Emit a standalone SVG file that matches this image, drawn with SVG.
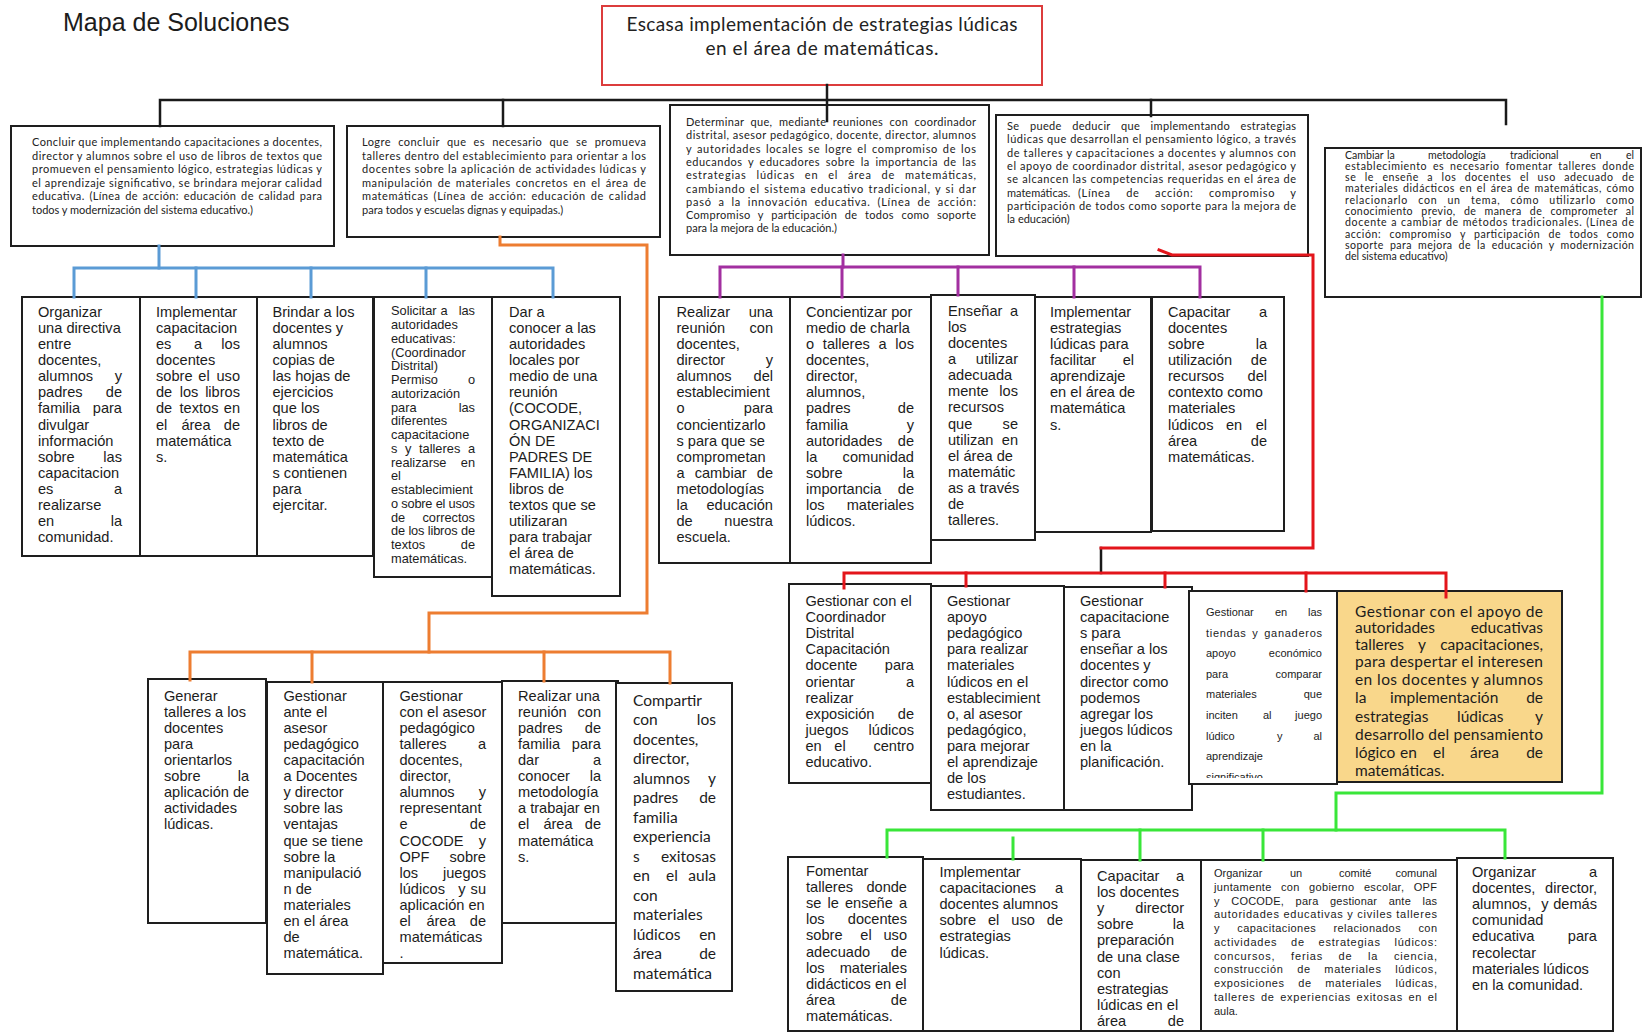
<svg xmlns="http://www.w3.org/2000/svg" width="1642" height="1034" viewBox="0 0 1642 1034">
<style>
.bx{fill:#fff;stroke:#1e1e1e;stroke-width:2}
.a{font-family:"Liberation Sans",Arial,sans-serif;font-size:14.6px;fill:#1c1c1c}
.s{font-family:"Liberation Sans",Arial,sans-serif;font-size:12.8px;fill:#1c1c1c}
.n{font-family:"Liberation Sans",Arial,sans-serif;font-size:11px;fill:#1c1c1c}
.c{font-family:Lato,"Open Sans","Liberation Sans",sans-serif;font-size:11px;fill:#222}
.c5{font-family:Lato,"Open Sans","Liberation Sans",sans-serif;font-size:10.6px;fill:#222}
.cl{font-family:Lato,"Open Sans","Liberation Sans",sans-serif;font-size:15.5px;fill:#1c1c1c}
.e{text-anchor:end}
.m{text-anchor:middle}
.k{fill:none;stroke-width:3;stroke-linecap:square;stroke-linejoin:miter}
</style>
<defs>
<clipPath id="clipR4"><rect x="1189" y="591" width="148" height="187"/></clipPath>
</defs>
<rect width="1642" height="1034" fill="#fff"/>
<text x="63" y="31" font-family="Liberation Sans, Arial, sans-serif" font-size="25" fill="#1c1c1c">Mapa de Soluciones</text>

<g id="title">
<rect x="602" y="6" width="440" height="79" fill="#fff" stroke="#DC3C3C" stroke-width="2"/>
<text x="822" y="31" class="m" font-family="Lato, Open Sans, sans-serif" font-size="19" fill="#222" textLength="391">Escasa implementación de estrategias lúdicas</text>
<text x="822" y="55" class="m" font-family="Lato, Open Sans, sans-serif" font-size="19" fill="#222" textLength="233">en el área de matemáticas.</text>
</g>

<g id="box1">
<rect class="bx" x="11" y="126" width="323" height="120"/>
<text class="c" x="32" y="146" textLength="290">Concluir que implementando capacitaciones a docentes,</text>
<text class="c" x="32" y="159.6" textLength="290">director y alumnos sobre el uso de libros de textos que</text>
<text class="c" x="32" y="173.2" textLength="290">promueven el pensamiento lógico, estrategias lúdicas y</text>
<text class="c" x="32" y="186.8" textLength="290">el aprendizaje significativo, se brindara mejorar calidad</text>
<text class="c" x="32" y="200.4" textLength="290" word-spacing="1.5">educativa.  (Línea de acción: educación de calidad para</text>
<text class="c" x="32" y="214">todos y modernización del sistema educativo.)</text>
</g>

<g id="box2">
<rect class="bx" x="347" y="126" width="313" height="111"/>
<text class="c" x="362" y="146" textLength="284" word-spacing="3.9">Logre concluir que es necesario que se promueva</text>
<text class="c" x="362" y="159.6" textLength="284">talleres dentro del establecimiento para orientar a los</text>
<text class="c" x="362" y="173.2" textLength="284">docentes sobre la aplicación de actividades lúdicas y</text>
<text class="c" x="362" y="186.8" textLength="284" word-spacing="1.6">manipulación de materiales concretos en el área de</text>
<text class="c" x="362" y="200.4" textLength="284" word-spacing="1.6">matemáticas (Línea de acción: educación de calidad</text>
<text class="c" x="362" y="214">para todos y escuelas dignas y equipadas.)</text>
</g>

<g id="box3">
<rect class="bx" x="670" y="105" width="319" height="150"/>
<text class="c" x="686" y="126" textLength="290" word-spacing="3.4">Determinar que, mediante reuniones con coordinador</text>
<text class="c" x="686" y="139.3" textLength="290">distrital, asesor pedagógico, docente, director, alumnos</text>
<text class="c" x="686" y="152.6" textLength="290" word-spacing="1.4">y autoridades locales se logre el compromiso de los</text>
<text class="c" x="686" y="165.9" textLength="290" word-spacing="2.4">educandos y educadores sobre la importancia de las</text>
<text class="c" x="686" y="179.2" textLength="290" word-spacing="6.3">estrategias lúdicas en el área de matemáticas,</text>
<text class="c" x="686" y="192.5" textLength="290" word-spacing="0.8">cambiando el sistema educativo tradicional, y si dar</text>
<text class="c" x="686" y="205.8" textLength="290" word-spacing="3.1">pasó a la innovación educativa. (Línea de acción:</text>
<text class="c" x="686" y="219.1" textLength="290" word-spacing="4.5">Compromiso y participación de todos como soporte</text>
<text class="c" x="686" y="232.4">para la mejora de la educación.)</text>
</g>

<g id="box4">
<rect class="bx" x="996" y="115" width="312" height="141"/>
<text class="c" x="1007" y="130" textLength="289" word-spacing="7.4">Se puede deducir que implementando estrategias</text>
<text class="c" x="1007" y="143.3" textLength="289">lúdicas que desarrollan el pensamiento lógico, a través</text>
<text class="c" x="1007" y="156.6" textLength="289">de talleres y capacitaciones a docentes y alumnos con</text>
<text class="c" x="1007" y="169.9" textLength="289">el apoyo de coordinador distrital, asesor pedagógico y</text>
<text class="c" x="1007" y="183.2" textLength="289">se alcancen las competencias requeridas en el área de</text>
<text class="c" x="1007" y="196.5">matemáticas.</text>
<text class="c" x="1078" y="196.5" textLength="218" word-spacing="12">(Línea de acción: compromiso y</text>
<text class="c" x="1007" y="209.8" textLength="289">participación de todos como soporte para la mejora de</text>
<text class="c" x="1007" y="223.1">la educación)</text>
</g>

<g id="box5">
<rect class="bx" x="1325" y="148" width="316" height="149"/>
<text class="c5" y="158.5"><tspan x="1345">Cambiar</tspan><tspan x="1387">la</tspan><tspan x="1428">metodología</tspan><tspan x="1510">tradicional</tspan><tspan x="1590">en</tspan><tspan x="1634" class="e">el</tspan></text>
<text class="c5" x="1345" y="169.8" textLength="289" word-spacing="2.5">establecimiento es necesario fomentar talleres donde</text>
<text class="c5" x="1345" y="181.1" textLength="289" word-spacing="5.2">se le enseñe a los docentes el uso adecuado de</text>
<text class="c5" x="1345" y="192.4" textLength="289" word-spacing="1.3">materiales didácticos en el área de matemáticas, cómo</text>
<text class="c5" x="1345" y="203.7" textLength="289" word-spacing="6.7">relacionarlo con un tema, cómo utilizarlo como</text>
<text class="c5" x="1345" y="215" textLength="289" word-spacing="5.1">conocimiento previo, de manera de comprometer al</text>
<text class="c5" x="1345" y="226.3" textLength="289" word-spacing="0.5">docente a cambiar de métodos tradicionales.  (Línea de</text>
<text class="c5" x="1345" y="237.6" textLength="289" word-spacing="5.1">acción: compromiso y participación de todos como</text>
<text class="c5" x="1345" y="248.9" textLength="289" word-spacing="2.9">soporte para mejora de la educación y modernización</text>
<text class="c5" x="1345" y="260.2">del sistema educativo)</text>
</g>

<g id="b1">
<rect class="bx" x="22" y="297" width="118" height="259"/>
<text class="a" x="38" y="317">Organizar</text>
<text class="a" x="38" y="333.1">una directiva</text>
<text class="a" x="38" y="349.1">entre</text>
<text class="a" x="38" y="365.2">docentes,</text>
<text class="a" y="381.3"><tspan x="38">alumnos</tspan><tspan x="122" class="e">y</tspan></text>
<text class="a" y="397.4"><tspan x="38">padres</tspan><tspan x="122" class="e">de</tspan></text>
<text class="a" y="413.4"><tspan x="38">familia</tspan><tspan x="122" class="e">para</tspan></text>
<text class="a" x="38" y="429.5">divulgar</text>
<text class="a" x="38" y="445.6">información</text>
<text class="a" y="461.6"><tspan x="38">sobre</tspan><tspan x="122" class="e">las</tspan></text>
<text class="a" x="38" y="477.7">capacitacion</text>
<text class="a" y="493.8"><tspan x="38">es</tspan><tspan x="122" class="e">a</tspan></text>
<text class="a" x="38" y="509.8">realizarse</text>
<text class="a" y="525.9"><tspan x="38">en</tspan><tspan x="122" class="e">la</tspan></text>
<text class="a" x="38" y="542">comunidad.</text>
</g>

<g id="b2">
<rect class="bx" x="140" y="297" width="117" height="259"/>
<text class="a" x="156" y="317">Implementar</text>
<text class="a" x="156" y="333.1">capacitacion</text>
<text class="a" y="349.1"><tspan x="156">es</tspan><tspan x="198" class="m">a</tspan><tspan x="240" class="e">los</tspan></text>
<text class="a" x="156" y="365.2">docentes</text>
<text class="a" y="381.3"><tspan x="156">sobre</tspan><tspan x="204" class="m">el</tspan><tspan x="240" class="e">uso</tspan></text>
<text class="a" y="397.4"><tspan x="156">de</tspan><tspan x="189" class="m">los</tspan><tspan x="240" class="e">libros</tspan></text>
<text class="a" y="413.4"><tspan x="156">de</tspan><tspan x="199" class="m">textos</tspan><tspan x="240" class="e">en</tspan></text>
<text class="a" y="429.5"><tspan x="156">el</tspan><tspan x="196" class="m">área</tspan><tspan x="240" class="e">de</tspan></text>
<text class="a" x="156" y="445.6">matemática</text>
<text class="a" x="156" y="461.6">s.</text>
</g>

<g id="b3">
<rect class="bx" x="257" y="297" width="116" height="259"/>
<text class="a" x="272.5" y="317">Brindar a los</text>
<text class="a" x="272.5" y="333.1">docentes y</text>
<text class="a" x="272.5" y="349.1">alumnos</text>
<text class="a" x="272.5" y="365.2">copias de</text>
<text class="a" x="272.5" y="381.3">las hojas de</text>
<text class="a" x="272.5" y="397.4">ejercicios</text>
<text class="a" x="272.5" y="413.4">que los</text>
<text class="a" x="272.5" y="429.5">libros de</text>
<text class="a" x="272.5" y="445.6">texto de</text>
<text class="a" x="272.5" y="461.6">matemática</text>
<text class="a" x="272.5" y="477.7">s contienen</text>
<text class="a" x="272.5" y="493.8">para</text>
<text class="a" x="272.5" y="509.8">ejercitar.</text>
</g>

<g id="b4">
<rect class="bx" x="374" y="297" width="118" height="280"/>
<text class="s" y="315.2"><tspan x="391">Solicitar</tspan><tspan x="444" class="m">a</tspan><tspan x="475" class="e">las</tspan></text>
<text class="s" x="391" y="329">autoridades</text>
<text class="s" x="391" y="342.7">educativas:</text>
<text class="s" x="391" y="356.5">(Coordinador</text>
<text class="s" x="391" y="370.2">Distrital)</text>
<text class="s" y="384"><tspan x="391">Permiso</tspan><tspan x="475" class="e">o</tspan></text>
<text class="s" x="391" y="397.8">autorización</text>
<text class="s" y="411.5"><tspan x="391">para</tspan><tspan x="475" class="e">las</tspan></text>
<text class="s" x="391" y="425.3">diferentes</text>
<text class="s" x="391" y="439">capacitacione</text>
<text class="s" x="391" y="452.8" textLength="84" word-spacing="4">s y talleres a</text>
<text class="s" y="466.6"><tspan x="391">realizarse</tspan><tspan x="475" class="e">en</tspan></text>
<text class="s" x="391" y="480.3">el</text>
<text class="s" x="391" y="494.1">establecimient</text>
<text class="s" x="391" y="507.8" textLength="84">o sobre el usos</text>
<text class="s" y="521.6"><tspan x="391">de</tspan><tspan x="475" class="e">correctos</tspan></text>
<text class="s" x="391" y="535.4" textLength="84">de los libros de</text>
<text class="s" y="549.1"><tspan x="391">textos</tspan><tspan x="475" class="e">de</tspan></text>
<text class="s" x="391" y="562.9">matemáticas.</text>
</g>

<g id="b5">
<rect class="bx" x="492" y="297" width="128" height="299"/>
<text class="a" x="509" y="317">Dar a</text>
<text class="a" x="509" y="333.1">conocer a las</text>
<text class="a" x="509" y="349.1">autoridades</text>
<text class="a" x="509" y="365.2">locales por</text>
<text class="a" x="509" y="381.3">medio de una</text>
<text class="a" x="509" y="397.4">reunión</text>
<text class="a" x="509" y="413.4">(COCODE,</text>
<text class="a" x="509" y="429.5">ORGANIZACI</text>
<text class="a" x="509" y="445.6">ÓN DE</text>
<text class="a" x="509" y="461.6">PADRES DE</text>
<text class="a" x="509" y="477.7">FAMILIA) los</text>
<text class="a" x="509" y="493.8">libros de</text>
<text class="a" x="509" y="509.8">textos que se</text>
<text class="a" x="509" y="525.9">utilizaran</text>
<text class="a" x="509" y="542">para trabajar</text>
<text class="a" x="509" y="558.1">el área de</text>
<text class="a" x="509" y="574.2">matemáticas.</text>
</g>

<g id="p1">
<rect class="bx" x="659" y="297" width="131" height="266"/>
<text class="a" y="317"><tspan x="676.5">Realizar</tspan><tspan x="773" class="e">una</tspan></text>
<text class="a" y="333.1"><tspan x="676.5">reunión</tspan><tspan x="773" class="e">con</tspan></text>
<text class="a" x="676.5" y="349.1">docentes,</text>
<text class="a" y="365.2"><tspan x="676.5">director</tspan><tspan x="773" class="e">y</tspan></text>
<text class="a" y="381.3"><tspan x="676.5">alumnos</tspan><tspan x="773" class="e">del</tspan></text>
<text class="a" x="676.5" y="397.4">establecimient</text>
<text class="a" y="413.4"><tspan x="676.5">o</tspan><tspan x="773" class="e">para</tspan></text>
<text class="a" x="676.5" y="429.5">concientizarlo</text>
<text class="a" x="676.5" y="445.6">s para que se</text>
<text class="a" x="676.5" y="461.6">comprometan</text>
<text class="a" x="676.5" y="477.7" textLength="96.5" word-spacing="6">a cambiar de</text>
<text class="a" x="676.5" y="493.8">metodologías</text>
<text class="a" y="509.8"><tspan x="676.5">la</tspan><tspan x="773" class="e">educación</tspan></text>
<text class="a" y="525.9"><tspan x="676.5">de</tspan><tspan x="773" class="e">nuestra</tspan></text>
<text class="a" x="676.5" y="542">escuela.</text>
</g>

<g id="p2">
<rect class="bx" x="790" y="297" width="141" height="266"/>
<text class="a" x="806" y="317">Concientizar por</text>
<text class="a" x="806" y="333.1">medio de charla</text>
<text class="a" x="806" y="349.1" textLength="108" word-spacing="4.7">o talleres a los</text>
<text class="a" x="806" y="365.2">docentes,</text>
<text class="a" x="806" y="381.3">director,</text>
<text class="a" x="806" y="397.4">alumnos,</text>
<text class="a" y="413.4"><tspan x="806">padres</tspan><tspan x="914" class="e">de</tspan></text>
<text class="a" y="429.5"><tspan x="806">familia</tspan><tspan x="914" class="e">y</tspan></text>
<text class="a" y="445.6"><tspan x="806">autoridades</tspan><tspan x="914" class="e">de</tspan></text>
<text class="a" y="461.6"><tspan x="806">la</tspan><tspan x="914" class="e">comunidad</tspan></text>
<text class="a" y="477.7"><tspan x="806">sobre</tspan><tspan x="914" class="e">la</tspan></text>
<text class="a" y="493.8"><tspan x="806">importancia</tspan><tspan x="914" class="e">de</tspan></text>
<text class="a" y="509.8"><tspan x="806">los</tspan><tspan x="914" class="e">materiales</tspan></text>
<text class="a" x="806" y="525.9">lúdicos.</text>
</g>

<g id="p3">
<rect class="bx" x="931" y="295" width="104" height="245"/>
<text class="a" y="316"><tspan x="948">Enseñar</tspan><tspan x="1018" class="e">a</tspan></text>
<text class="a" x="948" y="332.1">los</text>
<text class="a" x="948" y="348.1">docentes</text>
<text class="a" y="364.2"><tspan x="948">a</tspan><tspan x="1018" class="e">utilizar</tspan></text>
<text class="a" x="948" y="380.3">adecuada</text>
<text class="a" y="396.4"><tspan x="948">mente</tspan><tspan x="1018" class="e">los</tspan></text>
<text class="a" x="948" y="412.4">recursos</text>
<text class="a" y="428.5"><tspan x="948">que</tspan><tspan x="1018" class="e">se</tspan></text>
<text class="a" y="444.6"><tspan x="948">utilizan</tspan><tspan x="1018" class="e">en</tspan></text>
<text class="a" x="948" y="460.6">el área de</text>
<text class="a" x="948" y="476.7">matemátic</text>
<text class="a" x="948" y="492.8">as a través</text>
<text class="a" x="948" y="508.8">de</text>
<text class="a" x="948" y="524.9">talleres.</text>
</g>

<g id="p4">
<rect class="bx" x="1035" y="297" width="116" height="235"/>
<text class="a" x="1050" y="317">Implementar</text>
<text class="a" x="1050" y="333.1">estrategias</text>
<text class="a" x="1050" y="349.1">lúdicas para</text>
<text class="a" y="365.2"><tspan x="1050">facilitar</tspan><tspan x="1134" class="e">el</tspan></text>
<text class="a" x="1050" y="381.3">aprendizaje</text>
<text class="a" x="1050" y="397.4">en el área de</text>
<text class="a" x="1050" y="413.4">matemática</text>
<text class="a" x="1050" y="429.5">s.</text>
</g>

<g id="p5">
<rect class="bx" x="1152" y="297" width="132" height="234"/>
<text class="a" y="317"><tspan x="1168">Capacitar</tspan><tspan x="1267" class="e">a</tspan></text>
<text class="a" x="1168" y="333.1">docentes</text>
<text class="a" y="349.1"><tspan x="1168">sobre</tspan><tspan x="1267" class="e">la</tspan></text>
<text class="a" y="365.2"><tspan x="1168">utilización</tspan><tspan x="1267" class="e">de</tspan></text>
<text class="a" y="381.3"><tspan x="1168">recursos</tspan><tspan x="1267" class="e">del</tspan></text>
<text class="a" x="1168" y="397.4">contexto como</text>
<text class="a" x="1168" y="413.4">materiales</text>
<text class="a" y="429.5"><tspan x="1168">lúdicos</tspan><tspan x="1234" class="m">en</tspan><tspan x="1267" class="e">el</tspan></text>
<text class="a" y="445.6"><tspan x="1168">área</tspan><tspan x="1267" class="e">de</tspan></text>
<text class="a" x="1168" y="461.6">matemáticas.</text>
</g>

<g id="r1">
<rect class="bx" x="789" y="584" width="142" height="199"/>
<text class="a" x="805.5" y="606">Gestionar con el</text>
<text class="a" x="805.5" y="622.1">Coordinador</text>
<text class="a" x="805.5" y="638.2">Distrital</text>
<text class="a" x="805.5" y="654.3">Capacitación</text>
<text class="a" y="670.4"><tspan x="805.5">docente</tspan><tspan x="914" class="e">para</tspan></text>
<text class="a" y="686.5"><tspan x="805.5">orientar</tspan><tspan x="914" class="e">a</tspan></text>
<text class="a" x="805.5" y="702.6">realizar</text>
<text class="a" y="718.7"><tspan x="805.5">exposición</tspan><tspan x="914" class="e">de</tspan></text>
<text class="a" y="734.8"><tspan x="805.5">juegos</tspan><tspan x="914" class="e">lúdicos</tspan></text>
<text class="a" y="750.9"><tspan x="805.5">en</tspan><tspan x="840" class="m">el</tspan><tspan x="914" class="e">centro</tspan></text>
<text class="a" x="805.5" y="767">educativo.</text>
</g>

<g id="r2">
<rect class="bx" x="931" y="586" width="133" height="224"/>
<text class="a" x="947" y="606">Gestionar</text>
<text class="a" x="947" y="622.1">apoyo</text>
<text class="a" x="947" y="638.2">pedagógico</text>
<text class="a" x="947" y="654.3">para realizar</text>
<text class="a" x="947" y="670.4">materiales</text>
<text class="a" x="947" y="686.5">lúdicos en el</text>
<text class="a" x="947" y="702.6">establecimient</text>
<text class="a" x="947" y="718.7">o, al asesor</text>
<text class="a" x="947" y="734.8">pedagógico,</text>
<text class="a" x="947" y="750.9">para mejorar</text>
<text class="a" x="947" y="767">el aprendizaje</text>
<text class="a" x="947" y="783.1">de los</text>
<text class="a" x="947" y="799.2">estudiantes.</text>
</g>

<g id="r3">
<rect class="bx" x="1064" y="587" width="128" height="223"/>
<text class="a" x="1080" y="606">Gestionar</text>
<text class="a" x="1080" y="622.1">capacitacione</text>
<text class="a" x="1080" y="638.2">s para</text>
<text class="a" x="1080" y="654.3">enseñar a los</text>
<text class="a" x="1080" y="670.4">docentes y</text>
<text class="a" x="1080" y="686.5">director como</text>
<text class="a" x="1080" y="702.6">podemos</text>
<text class="a" x="1080" y="718.7">agregar los</text>
<text class="a" x="1080" y="734.8">juegos lúdicos</text>
<text class="a" x="1080" y="750.9">en la</text>
<text class="a" x="1080" y="767">planificación.</text>
</g>

<g id="r4">
<rect class="bx" x="1189" y="591" width="148" height="193"/>
<g clip-path="url(#clipR4)">
<text class="n" y="616"><tspan x="1206">Gestionar</tspan><tspan x="1275">en</tspan><tspan x="1322" class="e">las</tspan></text>
<text class="n" x="1206" y="636.6" textLength="116" word-spacing="2">tiendas y ganaderos</text>
<text class="n" y="657.2"><tspan x="1206">apoyo</tspan><tspan x="1322" class="e">económico</tspan></text>
<text class="n" y="677.8"><tspan x="1206">para</tspan><tspan x="1322" class="e">comparar</tspan></text>
<text class="n" y="698.4"><tspan x="1206">materiales</tspan><tspan x="1322" class="e">que</tspan></text>
<text class="n" y="719"><tspan x="1206">inciten</tspan><tspan x="1263">al</tspan><tspan x="1322" class="e">juego</tspan></text>
<text class="n" y="739.6"><tspan x="1206">lúdico</tspan><tspan x="1277">y</tspan><tspan x="1322" class="e">al</tspan></text>
<text class="n" x="1206" y="760.2">aprendizaje</text>
<text class="n" x="1206" y="781">significativo</text>
</g>
</g>

<g id="r5">
<rect x="1337" y="591" width="225" height="191" fill="#F9D78B" stroke="#1e1e1e" stroke-width="2"/>
<text class="cl" x="1355" y="617" textLength="188">Gestionar con el apoyo de</text>
<text class="cl" y="633"><tspan x="1355">autoridades</tspan><tspan x="1543" class="e">educativas</tspan></text>
<text class="cl" y="650"><tspan x="1355">talleres</tspan><tspan x="1422" class="m">y</tspan><tspan x="1543" class="e">capacitaciones,</tspan></text>
<text class="cl" x="1355" y="667" textLength="188">para despertar el interesen</text>
<text class="cl" x="1355" y="685" textLength="188">en los docentes y alumnos</text>
<text class="cl" y="703"><tspan x="1355">la</tspan><tspan x="1390">implementación</tspan><tspan x="1543" class="e">de</tspan></text>
<text class="cl" y="722"><tspan x="1355">estrategias</tspan><tspan x="1457">lúdicas</tspan><tspan x="1543" class="e">y</tspan></text>
<text class="cl" x="1355" y="740" textLength="188">desarrollo del pensamiento</text>
<text class="cl" y="758"><tspan x="1355">lógico</tspan><tspan x="1400">en</tspan><tspan x="1433">el</tspan><tspan x="1470">área</tspan><tspan x="1543" class="e">de</tspan></text>
<text class="cl" x="1355" y="776">matemáticas.</text>
</g>

<g id="o1">
<rect class="bx" x="148" y="679" width="118" height="244"/>
<text class="a" x="164" y="701">Generar</text>
<text class="a" x="164" y="717.1">talleres a los</text>
<text class="a" x="164" y="733.1">docentes</text>
<text class="a" x="164" y="749.2">para</text>
<text class="a" x="164" y="765.2">orientarlos</text>
<text class="a" y="781.3"><tspan x="164">sobre</tspan><tspan x="249" class="e">la</tspan></text>
<text class="a" x="164" y="797.3">aplicación de</text>
<text class="a" x="164" y="813.4">actividades</text>
<text class="a" x="164" y="829.4">lúdicas.</text>
</g>

<g id="o2">
<rect class="bx" x="267" y="682" width="116" height="292"/>
<text class="a" x="283.5" y="701">Gestionar</text>
<text class="a" x="283.5" y="717.1">ante el</text>
<text class="a" x="283.5" y="733.1">asesor</text>
<text class="a" x="283.5" y="749.2">pedagógico</text>
<text class="a" x="283.5" y="765.2">capacitación</text>
<text class="a" x="283.5" y="781.3">a Docentes</text>
<text class="a" x="283.5" y="797.3">y director</text>
<text class="a" x="283.5" y="813.4">sobre las</text>
<text class="a" x="283.5" y="829.4">ventajas</text>
<text class="a" x="283.5" y="845.5">que se tiene</text>
<text class="a" x="283.5" y="861.5">sobre la</text>
<text class="a" x="283.5" y="877.6">manipulació</text>
<text class="a" x="283.5" y="893.6">n de</text>
<text class="a" x="283.5" y="909.7">materiales</text>
<text class="a" x="283.5" y="925.7">en el área</text>
<text class="a" x="283.5" y="941.8">de</text>
<text class="a" x="283.5" y="957.8">matemática.</text>
</g>

<g id="o3">
<rect class="bx" x="383" y="682" width="119" height="281"/>
<text class="a" x="399.5" y="701">Gestionar</text>
<text class="a" x="399.5" y="717.1">con el asesor</text>
<text class="a" x="399.5" y="733.1">pedagógico</text>
<text class="a" y="749.2"><tspan x="399.5">talleres</tspan><tspan x="486" class="e">a</tspan></text>
<text class="a" x="399.5" y="765.2">docentes,</text>
<text class="a" x="399.5" y="781.3">director,</text>
<text class="a" y="797.3"><tspan x="399.5">alumnos</tspan><tspan x="486" class="e">y</tspan></text>
<text class="a" x="399.5" y="813.4">representant</text>
<text class="a" y="829.4"><tspan x="399.5">e</tspan><tspan x="486" class="e">de</tspan></text>
<text class="a" y="845.5"><tspan x="399.5">COCODE</tspan><tspan x="486" class="e">y</tspan></text>
<text class="a" y="861.5"><tspan x="399.5">OPF</tspan><tspan x="486" class="e">sobre</tspan></text>
<text class="a" y="877.6"><tspan x="399.5">los</tspan><tspan x="486" class="e">juegos</tspan></text>
<text class="a" y="893.6"><tspan x="399.5">lúdicos</tspan><tspan x="462" class="m">y</tspan><tspan x="486" class="e">su</tspan></text>
<text class="a" x="399.5" y="909.7">aplicación en</text>
<text class="a" y="925.7"><tspan x="399.5">el</tspan><tspan x="441" class="m">área</tspan><tspan x="486" class="e">de</tspan></text>
<text class="a" x="399.5" y="941.8">matemáticas</text>
<text class="a" x="399.5" y="957.8">.</text>
</g>

<g id="o4">
<rect class="bx" x="502" y="681" width="116" height="242"/>
<text class="a" x="518" y="701">Realizar una</text>
<text class="a" y="717.1"><tspan x="518">reunión</tspan><tspan x="601" class="e">con</tspan></text>
<text class="a" y="733.1"><tspan x="518">padres</tspan><tspan x="601" class="e">de</tspan></text>
<text class="a" y="749.2"><tspan x="518">familia</tspan><tspan x="601" class="e">para</tspan></text>
<text class="a" y="765.2"><tspan x="518">dar</tspan><tspan x="601" class="e">a</tspan></text>
<text class="a" y="781.3"><tspan x="518">conocer</tspan><tspan x="601" class="e">la</tspan></text>
<text class="a" x="518" y="797.3">metodología</text>
<text class="a" x="518" y="813.4">a trabajar en</text>
<text class="a" y="829.4"><tspan x="518">el</tspan><tspan x="558" class="m">área</tspan><tspan x="601" class="e">de</tspan></text>
<text class="a" x="518" y="845.5">matemática</text>
<text class="a" x="518" y="861.5">s.</text>
</g>

<g id="o5">
<rect class="bx" x="616" y="683" width="116" height="308"/>
<text class="cl" x="633" y="705.5">Compartir</text>
<text class="cl" y="725"><tspan x="633">con</tspan><tspan x="716" class="e">los</tspan></text>
<text class="cl" x="633" y="744.5">docentes,</text>
<text class="cl" x="633" y="764">director,</text>
<text class="cl" y="783.5"><tspan x="633">alumnos</tspan><tspan x="716" class="e">y</tspan></text>
<text class="cl" y="803"><tspan x="633">padres</tspan><tspan x="716" class="e">de</tspan></text>
<text class="cl" x="633" y="822.5">familia</text>
<text class="cl" x="633" y="842">experiencia</text>
<text class="cl" y="861.5"><tspan x="633">s</tspan><tspan x="716" class="e">exitosas</tspan></text>
<text class="cl" y="881"><tspan x="633">en</tspan><tspan x="672" class="m">el</tspan><tspan x="716" class="e">aula</tspan></text>
<text class="cl" x="633" y="900.5">con</text>
<text class="cl" x="633" y="920">materiales</text>
<text class="cl" y="939.5"><tspan x="633">lúdicos</tspan><tspan x="716" class="e">en</tspan></text>
<text class="cl" y="959"><tspan x="633">área</tspan><tspan x="716" class="e">de</tspan></text>
<text class="cl" x="633" y="978.5">matemática</text>
</g>

<g id="g1">
<rect class="bx" x="788" y="857" width="135" height="174"/>
<text class="a" x="806" y="876">Fomentar</text>
<text class="a" y="892.1"><tspan x="806">talleres</tspan><tspan x="907" class="e">donde</tspan></text>
<text class="a" x="806" y="908.2" textLength="101" word-spacing="2">se le enseñe a</text>
<text class="a" y="924.3"><tspan x="806">los</tspan><tspan x="907" class="e">docentes</tspan></text>
<text class="a" y="940.4"><tspan x="806">sobre</tspan><tspan x="866" class="m">el</tspan><tspan x="907" class="e">uso</tspan></text>
<text class="a" y="956.5"><tspan x="806">adecuado</tspan><tspan x="907" class="e">de</tspan></text>
<text class="a" y="972.6"><tspan x="806">los</tspan><tspan x="907" class="e">materiales</tspan></text>
<text class="a" x="806" y="988.7">didácticos en el</text>
<text class="a" y="1004.8"><tspan x="806">área</tspan><tspan x="907" class="e">de</tspan></text>
<text class="a" x="806" y="1020.9">matemáticas.</text>
</g>

<g id="g2">
<rect class="bx" x="923" y="859" width="158" height="172"/>
<text class="a" x="939.5" y="877">Implementar</text>
<text class="a" y="893.1"><tspan x="939.5">capacitaciones</tspan><tspan x="1063" class="e">a</tspan></text>
<text class="a" x="939.5" y="909.2">docentes alumnos</text>
<text class="a" x="939.5" y="925.3" textLength="123.5" word-spacing="7.9">sobre el uso de</text>
<text class="a" x="939.5" y="941.4">estrategias</text>
<text class="a" x="939.5" y="957.5">lúdicas.</text>
</g>

<g id="g3">
<rect class="bx" x="1081" y="860" width="120" height="171"/>
<text class="a" y="881"><tspan x="1097">Capacitar</tspan><tspan x="1184" class="e">a</tspan></text>
<text class="a" x="1097" y="897.1">los docentes</text>
<text class="a" y="913.2"><tspan x="1097">y</tspan><tspan x="1184" class="e">director</tspan></text>
<text class="a" y="929.3"><tspan x="1097">sobre</tspan><tspan x="1184" class="e">la</tspan></text>
<text class="a" x="1097" y="945.4">preparación</text>
<text class="a" x="1097" y="961.5">de una clase</text>
<text class="a" x="1097" y="977.6">con</text>
<text class="a" x="1097" y="993.7">estrategias</text>
<text class="a" x="1097" y="1009.8">lúdicas en el</text>
<text class="a" y="1025.9"><tspan x="1097">área</tspan><tspan x="1184" class="e">de</tspan></text>
</g>

<g id="g4">
<rect class="bx" x="1201" y="860" width="256" height="171"/>
<text class="n" y="877"><tspan x="1214">Organizar</tspan><tspan x="1290">un</tspan><tspan x="1339">comité</tspan><tspan x="1437" class="e">comunal</tspan></text>
<text class="n" x="1214" y="890.8" textLength="223" word-spacing="6">juntamente con gobierno escolar, OPF</text>
<text class="n" x="1214" y="904.5" textLength="223" word-spacing="8.3">y COCODE, para gestionar ante las</text>
<text class="n" x="1214" y="918.3" textLength="223">autoridades educativas y civiles talleres</text>
<text class="n" x="1214" y="932" textLength="223" word-spacing="13.8">y capacitaciones relacionados con</text>
<text class="n" x="1214" y="945.8" textLength="223" word-spacing="10">actividades de estrategias lúdicos:</text>
<text class="n" x="1214" y="959.5" textLength="223" word-spacing="11.7">concursos, ferias de la ciencia,</text>
<text class="n" x="1214" y="973.3" textLength="223" word-spacing="10">construcción de materiales lúdicos,</text>
<text class="n" x="1214" y="987" textLength="223" word-spacing="10">exposiciones de materiales lúdicas,</text>
<text class="n" x="1214" y="1000.8" textLength="223" word-spacing="1.7">talleres de experiencias exitosas en el</text>
<text class="n" x="1214" y="1014.5">aula.</text>
</g>

<g id="g5">
<rect class="bx" x="1457" y="858" width="156" height="173"/>
<text class="a" y="877"><tspan x="1472">Organizar</tspan><tspan x="1597" class="e">a</tspan></text>
<text class="a" y="893.1"><tspan x="1472">docentes,</tspan><tspan x="1597" class="e">director,</tspan></text>
<text class="a" y="909.2"><tspan x="1472">alumnos,</tspan><tspan x="1545" class="m">y</tspan><tspan x="1597" class="e">demás</tspan></text>
<text class="a" x="1472" y="925.3">comunidad</text>
<text class="a" y="941.4"><tspan x="1472">educativa</tspan><tspan x="1597" class="e">para</tspan></text>
<text class="a" x="1472" y="957.5">recolectar</text>
<text class="a" x="1472" y="973.6">materiales lúdicos</text>
<text class="a" x="1472" y="989.7">en la comunidad.</text>
</g>

<g id="connectors">
<g stroke="#1a1a1a" class="k" style="stroke-width:2.5">
<path d="M827 85 V121"/>
<path d="M160 126 V100 H1506 V124"/>
<path d="M503 100 V126"/>
<path d="M1151 100 V116"/>
<path d="M1101 548 V573"/>
</g>
<g stroke="#5B9BD5" class="k">
<path d="M159 246 V268"/>
<path d="M74 297 V268 H553 V297"/>
<path d="M196 268 V297 M311 268 V297 M426 268 V297"/>
</g>
<g stroke="#ED7D31" class="k">
<path d="M500 237 V245 H647 V613 H429 V652"/>
<path d="M190 680 V652 H670 V683"/>
<path d="M312 652 V682 M544 652 V681"/>
</g>
<g stroke="#A22FA0" class="k">
<path d="M843 255 V267"/>
<path d="M720 297 V267 H1200 V297"/>
<path d="M842 267 V297 M958 267 V295 M1074 267 V297"/>
</g>
<g stroke="#E3151B" class="k">
<path d="M1159 250 L1172 255 H1313 V548 H1101"/>
<path d="M844 588 V573 H1446 V597"/>
<path d="M966 573 V586 M1165 573 V587 M1306 573 V591"/>
</g>
<g stroke="#39E639" class="k">
<path d="M1602 297 V793 H1336 V830"/>
<path d="M887 857 V830 H1505 V858"/>
<path d="M1013 838 V859 M1140 830 V860 M1263 830 V860"/>
</g>
</g>
</svg>
